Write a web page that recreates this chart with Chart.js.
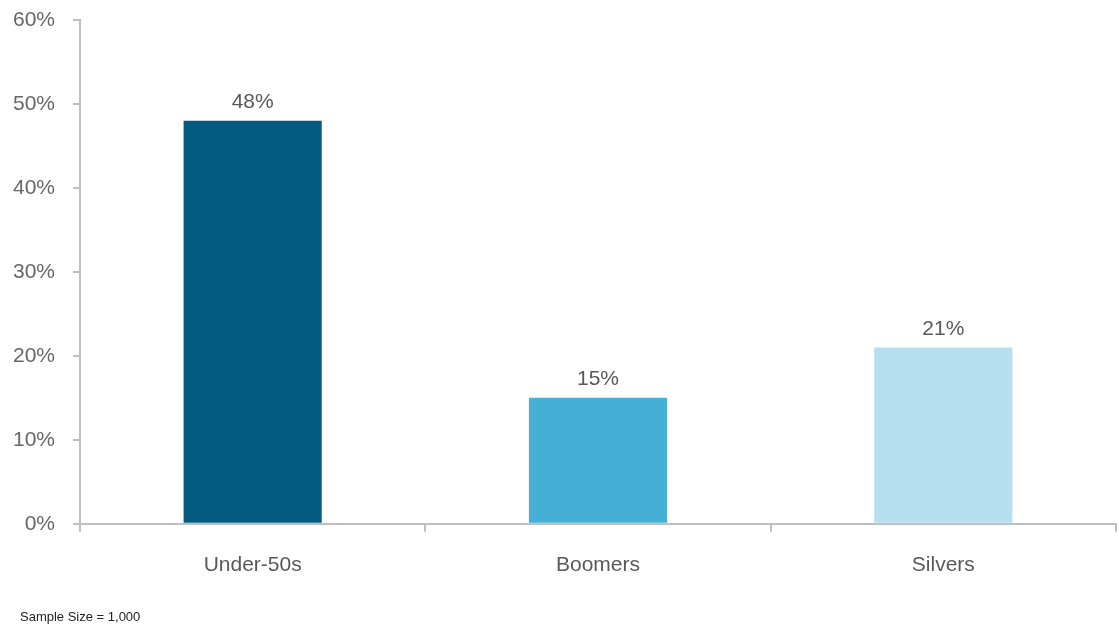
<!DOCTYPE html>
<html>
<head>
<meta charset="utf-8">
<script src="https://cdn.jsdelivr.net/npm/chart.js@4.4.1/dist/chart.umd.min.js"></script>
<style>
  html, body { margin: 0; padding: 0; background: #fff; }
  #wrap { width: 1119px; height: 626px; }
</style>
</head>
<body>
<div id="wrap"><canvas id="chart"></canvas></div>
<script>
const categories = ['Under-50s', 'Boomers', 'Silvers'];
const shares = [48, 15, 21];
const barColors = ['#035b80', '#45afd5', '#b5dfee'];
const yTicks = [0, 10, 20, 30, 40, 50, 60];
const footnote = 'Sample Size = 1,000';

const axisGrey = '#bfbfbf';
const font = 'Liberation Sans';

// value labels above each bar
const barLabels = {
    id: 'barLabels',
    afterDatasetsDraw(chart) {
        const ctx = chart.ctx;
        const meta = chart.getDatasetMeta(0);
        ctx.save();
        ctx.font = `21px "${font}"`;
        ctx.fillStyle = '#595959';
        ctx.textAlign = 'center';
        ctx.textBaseline = 'bottom';
        meta.data.forEach((bar, i) => {
            ctx.fillText(shares[i] + '%', bar.x, bar.y - 8);
        });
        ctx.restore();
    }
};

// sample size note, bottom left
const footnoteText = {
    id: 'footnoteText',
    afterDraw(chart) {
        const ctx = chart.ctx;
        ctx.save();
        ctx.font = `13px "${font}"`;
        ctx.fillStyle = '#222';
        ctx.textAlign = 'left';
        ctx.textBaseline = 'middle';
        ctx.fillText(footnote, 20, chart.height - 9);
        ctx.restore();
    }
};

new Chart(document.getElementById('chart').getContext('2d'), {
    type: 'bar',
    data: {
        labels: categories,
        datasets: [{
            data: shares,
            backgroundColor: barColors,
            borderWidth: 0,
            categoryPercentage: 1,
            barPercentage: 0.4,
        }]
    },
    options: {
        responsive: true,
        maintainAspectRatio: false,
        animation: false,
        layout: {
            padding: { top: 20, right: 3, left: 0, bottom: 27 }
        },
        plugins: {
            legend: { display: false },
            tooltip: { enabled: false },
            title: { display: false }
        },
        scales: {
            x: {
                grid: {
                    drawOnChartArea: false,
                    drawTicks: true,
                    tickLength: 8,
                    color: axisGrey,
                    lineWidth: 2
                },
                border: { display: true, color: axisGrey, width: 2 },
                ticks: {
                    color: '#595959',
                    padding: 21,
                    font: { family: font, size: 21 }
                }
            },
            y: {
                min: 0,
                max: 60,
                afterBuildTicks: (scale) => {
                    scale.ticks = yTicks.map(v => ({ value: v }));
                },
                afterFit: (scale) => {
                    scale.width = 80;
                    scale.paddingTop = 0;
                    scale.paddingBottom = 0;
                },
                grid: {
                    drawOnChartArea: false,
                    drawTicks: true,
                    tickLength: 7,
                    color: axisGrey,
                    lineWidth: 2
                },
                border: { display: true, color: axisGrey, width: 2 },
                ticks: {
                    color: '#666666',
                    padding: 18,
                    font: { family: font, size: 21 },
                    callback: (v) => v + '%'
                }
            }
        }
    },
    plugins: [barLabels, footnoteText]
});
</script>
</body>
</html>
